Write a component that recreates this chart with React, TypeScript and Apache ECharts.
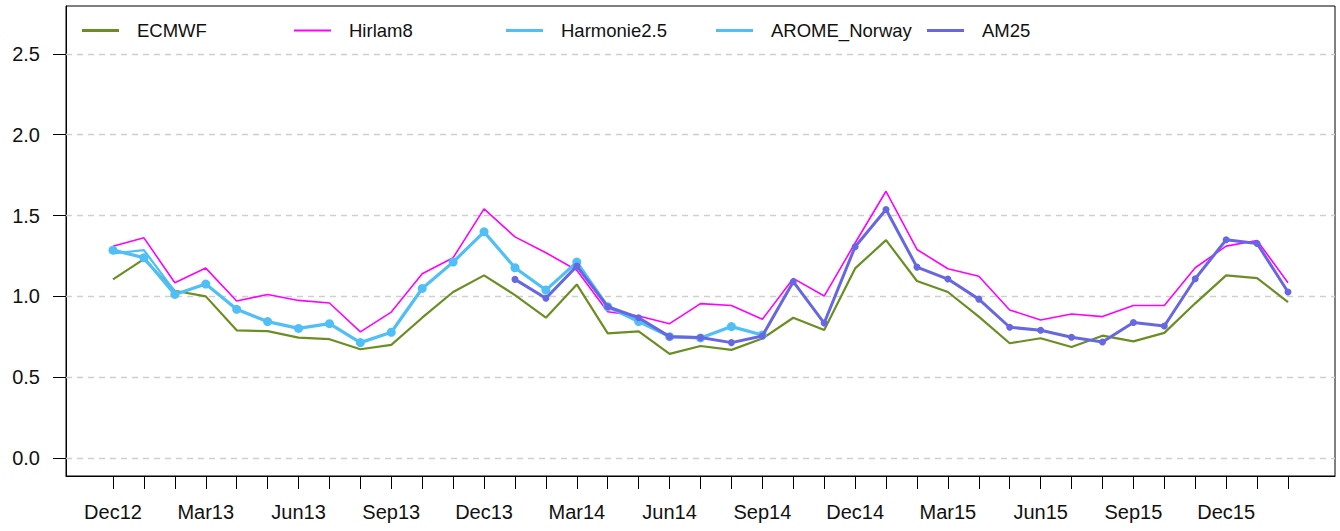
import React, { useEffect, useRef } from "react";
import * as echarts from "echarts";

const months = [
  "Dec12", "Jan13", "Feb13", "Mar13", "Apr13", "May13", "Jun13", "Jul13", "Aug13", "Sep13", "Oct13", "Nov13",
  "Dec13", "Jan14", "Feb14", "Mar14", "Apr14", "May14", "Jun14", "Jul14", "Aug14", "Sep14", "Oct14", "Nov14",
  "Dec14", "Jan15", "Feb15", "Mar15", "Apr15", "May15", "Jun15", "Jul15", "Aug15", "Sep15", "Oct15", "Nov15",
  "Dec15", "Jan16", "Feb16",
];

const labelMonths = ["Dec12", "Mar13", "Jun13", "Sep13", "Dec13", "Mar14", "Jun14", "Sep14", "Dec14", "Mar15", "Jun15", "Sep15", "Dec15"];

const yTicks = [0, 0.5, 1.0, 1.5, 2.0, 2.5];

const ecmwf = [
  1.105, 1.23, 1.035, 1.0, 0.79, 0.785, 0.745, 0.735, 0.673, 0.70, 0.868, 1.027, 1.13,
  1.008, 0.868, 1.074, 0.771, 0.784, 0.644, 0.693, 0.669, 0.739, 0.868, 0.792, 1.173, 1.348,
  1.095, 1.027, 0.875, 0.71, 0.741, 0.687, 0.757, 0.722, 0.774, 0.957, 1.13, 1.113, 0.965,
];

const hirlam8 = [
  1.31, 1.362, 1.084, 1.175, 0.971, 1.012, 0.975, 0.959, 0.78, 0.903, 1.14, 1.239, 1.541,
  1.368, 1.27, 1.162, 0.905, 0.879, 0.831, 0.955, 0.944, 0.858, 1.111, 1.002, 1.33, 1.65,
  1.29, 1.171, 1.125, 0.916, 0.854, 0.891, 0.875, 0.944, 0.944, 1.177, 1.311, 1.346, 1.084,
];

const harmonie25 = [
  1.265, 1.286, 1.03, null, null, null, null, null, null, null, null, null, null,
  null, null, null, null, null, null, null, null, null, null, null, null, null,
  null, null, null, null, null, null, null, null, null, null, null, null, null,
];

const aromeNorway = [
  1.286, 1.239, 1.012, 1.076, 0.92, 0.844, 0.802, 0.831, 0.714, 0.778, 1.049, 1.212, 1.399,
  1.177, 1.039, 1.212, 0.936, 0.844, 0.751, 0.743, 0.813, 0.761, null, null, null, null,
  null, null, null, null, null, null, null, null, null, null, null, null, null,
];

const am25 = [
  null, null, null, null, null, null, null, null, null, null, null, null, null,
  1.105, 0.988, 1.187, 0.936, 0.868, 0.751, 0.745, 0.714, 0.755, 1.091, 0.835, 1.307, 1.537,
  1.181, 1.107, 0.983, 0.809, 0.79, 0.747, 0.718, 0.838, 0.817, 1.109, 1.35, 1.327, 1.027,
];

const seriesNames = ["ECMWF", "Hirlam8", "Harmonie2.5", "AROME_Norway", "AM25"];
const colors = ["#6B8E23", "#FF00FF", "#4FBFF5", "#4FBFF5", "#6767E2"];

const FONT = "'Liberation Sans', Arial, Helvetica, sans-serif";

const toPairs = (arr: (number | null)[]) => arr.map((v, i) => [i, v === null ? "-" : v]);

export default function App() {
  const ref = useRef<HTMLDivElement>(null);

  useEffect(() => {
    if (!ref.current) return;
    const chart = echarts.init(ref.current, null, { renderer: "svg" });

    const n = months.length;
    const pad = (n - 1) * 0.04;
    const legendLefts = [77, 289, 501, 711, 922];

    const option: any = {
      animation: false,
      backgroundColor: "#ffffff",
      textStyle: { fontFamily: FONT },
      grid: {
        left: 66,
        right: 5,
        top: 6,
        bottom: 55,
        show: true,
        borderColor: "#000",
        borderWidth: 1,
        backgroundColor: "transparent",
      },
      legend: seriesNames.map((name, k) => ({
        data: [{ name, icon: "rect" }],
        left: legendLefts[k],
        top: 16,
        itemWidth: 37,
        itemHeight: k === 1 ? 2 : 3,
        textStyle: { fontFamily: FONT, fontSize: 18.5, color: "#111", padding: [0, 0, 0, 13] },
      })),
      xAxis: {
        type: "value",
        min: -pad,
        max: n - 1 + pad,
        axisLine: { show: true, onZero: false, lineStyle: { color: "#000", width: 1 } },
        axisTick: {
          show: true,
          length: 13,
          lineStyle: { color: "#000", width: 1 },
          customValues: months.map((_, i) => i),
        },
        axisLabel: {
          customValues: labelMonths.map((m) => months.indexOf(m)),
          formatter: (v: number) => months[Math.round(v)] ?? "",
          fontFamily: FONT,
          fontSize: 20,
          color: "#111",
          margin: 26,
        },
        splitLine: { show: false },
      },
      yAxis: {
        type: "value",
        min: -0.111,
        max: 2.796,
        axisLine: { show: true, onZero: false, lineStyle: { color: "#000", width: 1 } },
        axisTick: {
          show: true,
          length: 13,
          lineStyle: { color: "#000", width: 1 },
          customValues: yTicks,
        },
        axisLabel: {
          customValues: yTicks,
          formatter: (v: number) => v.toFixed(1),
          fontFamily: FONT,
          fontSize: 20,
          color: "#111",
          margin: 26,
        },
        splitLine: { show: false },
      },
      series: [
        {
          name: seriesNames[0],
          type: "line",
          data: toPairs(ecmwf),
          color: colors[0],
          lineStyle: { width: 2.2, color: colors[0] },
          showSymbol: false,
          symbol: "none",
          z: 2,
          markLine: {
            silent: true,
            symbol: "none",
            label: { show: false },
            lineStyle: { color: "#cfcfcf", type: [6, 5], width: 1.4 },
            data: yTicks.map((t) => ({ yAxis: t })),
            z: 1,
          },
        },
        {
          name: seriesNames[1],
          type: "line",
          data: toPairs(hirlam8),
          color: colors[1],
          lineStyle: { width: 1.6, color: colors[1] },
          symbol: "none",
          z: 3,
        },
        {
          name: seriesNames[2],
          type: "line",
          data: toPairs(harmonie25),
          color: colors[2],
          lineStyle: { width: 2.2, color: colors[2] },
          symbol: "none",
          z: 4,
        },
        {
          name: seriesNames[3],
          type: "line",
          data: toPairs(aromeNorway),
          color: colors[3],
          lineStyle: { width: 3.2, color: colors[3] },
          symbol: "circle",
          symbolSize: 9,
          itemStyle: { color: colors[3] },
          z: 5,
        },
        {
          name: seriesNames[4],
          type: "line",
          data: toPairs(am25),
          color: colors[4],
          lineStyle: { width: 3, color: colors[4] },
          symbol: "circle",
          symbolSize: 7,
          itemStyle: { color: colors[4] },
          z: 6,
        },
      ],
    };

    chart.setOption(option);
    return () => chart.dispose();
  }, []);

  return <div ref={ref} style={{ width: 1340, height: 531, position: "absolute", left: 0, top: 0 }} />;
}
